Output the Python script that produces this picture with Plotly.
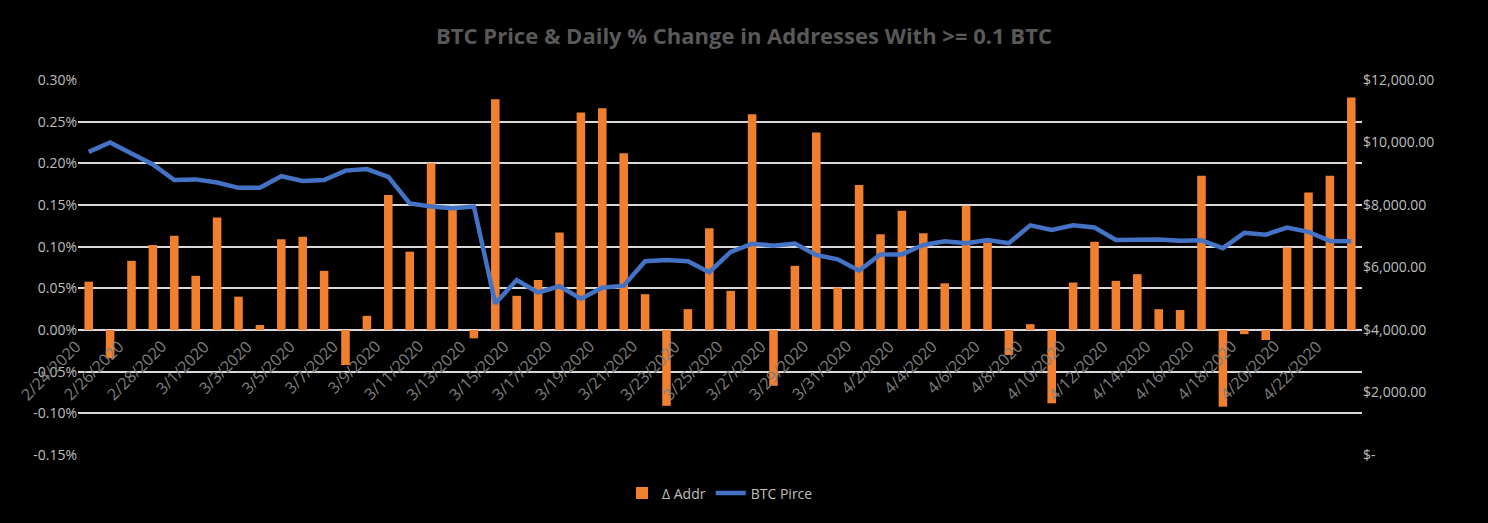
import plotly.graph_objects as go
import pandas as pd

dates = [f"{d.month}/{d.day}/{d.year}" for d in pd.date_range("2020-02-24", "2020-04-23")]
addr_change = [0.058, -0.034, 0.083, 0.102, 0.113, 0.065, 0.135, 0.040, 0.006, 0.109,
               0.112, 0.071, -0.042, 0.017, 0.162, 0.094, 0.200, 0.146, -0.010, 0.277,
               0.041, 0.060, 0.117, 0.261, 0.266, 0.212, 0.043, -0.091, 0.025, 0.122,
               0.047, 0.259, -0.067, 0.077, 0.237, 0.051, 0.174, 0.115, 0.143, 0.116,
               0.056, 0.149, 0.105, -0.030, 0.007, -0.088, 0.057, 0.106, 0.059, 0.067,
               0.025, 0.024, 0.185, -0.092, -0.005, -0.012, 0.099, 0.165, 0.185, 0.279]
btc_price = [9700, 10000, 9650, 9300, 8800, 8820, 8720, 8550, 8550, 8920,
             8770, 8800, 9100, 9150, 8900, 8050, 7950, 7900, 7950, 4850,
             5600, 5200, 5400, 5000, 5350, 5420, 6200, 6240, 6200, 5850,
             6500, 6760, 6700, 6770, 6400, 6260, 5900, 6420, 6420, 6720,
             6840, 6780, 6880, 6780, 7350, 7200, 7350, 7280, 6880, 6880,
             6900, 6860, 6870, 6620, 7110, 7050, 7280, 7140, 6850, 6840]

left_ticks = [-0.15, -0.10, -0.05, 0, 0.05, 0.10, 0.15, 0.20, 0.25, 0.30]
right_ticks = [0, 2000, 4000, 6000, 8000, 10000, 12000]
right_labels = ["$-"] + [f"${v:,.2f}" for v in right_ticks[1:]]

fig = go.Figure()
fig.add_trace(go.Bar(x=dates, y=[v / 100 for v in addr_change], name="Δ Addr",
                     marker=dict(color="#F07F2E", line=dict(width=0)), width=0.4))
fig.add_trace(go.Scatter(x=dates, y=btc_price, name="BTC Pirce", yaxis="y2", mode="lines",
                         line=dict(color="#4472C4", width=4.5)))

for i, d in enumerate(dates):
    if i % 2 == 0:
        fig.add_annotation(x=d, y=0, xref="x", yref="y", text=d, showarrow=False,
                           textangle=-45, xanchor="right", yanchor="top", yshift=-3,
                           font=dict(size=16, color="#7f7f7f", family="Open Sans"))

fig.update_layout(
    width=1488, height=523, paper_bgcolor="black", plot_bgcolor="black",
    margin=dict(l=78, r=126, t=80, b=68),
    title=dict(text="<b>BTC Price & Daily % Change in Addresses With >= 0.1 BTC</b>",
               x=0.5, xanchor="center", y=0.93, yanchor="middle",
               font=dict(size=22, color="#595959", family="Open Sans")),
    font=dict(family="Open Sans", color="#bfbfbf", size=14),
    showlegend=True,
    legend=dict(orientation="h", x=0.5, xanchor="center", y=-0.06, yanchor="top",
                font=dict(size=14, color="#bfbfbf"), bgcolor="rgba(0,0,0,0)"),
    xaxis=dict(type="category", range=[-0.5, len(dates) - 0.5], showticklabels=False,
               showgrid=False, ticks="", zeroline=False),
    yaxis=dict(range=[-0.0015, 0.003], tickvals=[v / 100 for v in left_ticks],
               ticktext=[f"{v:.2f}%" for v in left_ticks], showgrid=True,
               gridcolor="#d9d9d9", gridwidth=1.5, zeroline=True, zerolinecolor="#d9d9d9",
               zerolinewidth=1.5, tickfont=dict(size=14, color="#bfbfbf")),
    yaxis2=dict(range=[0, 12000], overlaying="y", side="right", tickvals=right_ticks,
                ticktext=right_labels, showgrid=False, zeroline=False,
                tickfont=dict(size=14, color="#bfbfbf")),
)
fig.write_html("out.html", config={"displayModeBar": False},
               post_script="document.body.style.margin='0';document.body.style.background='black';")
